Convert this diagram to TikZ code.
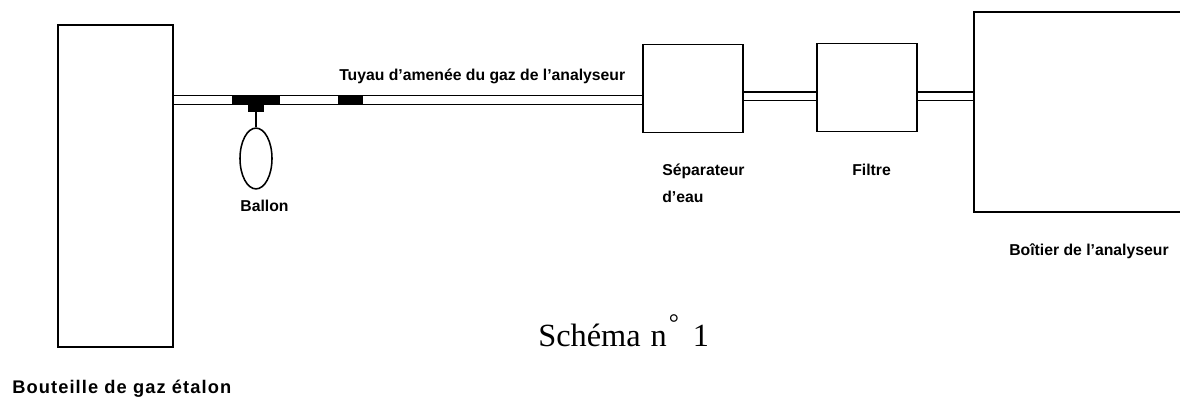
\documentclass[tikz,border=0pt]{standalone}
\usepackage{fontspec}
\setmainfont{Liberation Sans}
\newfontfamily\titlefont{Liberation Serif}
\usepackage{tikz}
\usetikzlibrary{positioning,shapes.geometric}

\begin{document}
\begin{tikzpicture}[x=0.025cm, y=-0.025cm,
  box/.style={draw, line width=1.1pt, inner sep=0pt},
  lbl/.style={font=\fontsize{11.2}{19.2}\selectfont\bfseries, inner sep=0pt, align=left},
  pipe/.style={line width=1.1pt},
  joint/.style={fill=black, inner sep=0pt}]
  \useasboundingbox (0,0) rectangle (1180,402);
  \node[box, minimum width=2.87cm, minimum height=8.05cm] (bottle) at (115.5,186) {};
  \node[box, minimum width=2.5cm, minimum height=2.2cm] (sep) at (693,88.3) {};
  \node[box, minimum width=2.5cm, minimum height=2.2cm] (filter) at (867,87.3) {};
  \node[box, minimum width=5.4cm, minimum height=5cm] (box) at (1082,112) {};
  \coordinate (pipeA) at (0,95.5);
  \coordinate (pipeB) at (0,104.5);
  \coordinate (pipeC) at (0,92);
  \coordinate (pipeD) at (0,100.5);
  % tuyau
  \draw[pipe] (bottle.east |- pipeA) -- (sep.west |- pipeA);
  \draw[pipe] (bottle.east |- pipeB) -- (sep.west |- pipeB);
  \draw[pipe] (sep.east |- pipeC) -- (filter.west |- pipeC);
  \draw[pipe] (sep.east |- pipeD) -- (filter.west |- pipeD);
  \draw[pipe] (filter.east |- pipeC) -- (box.west |- pipeC);
  \draw[pipe] (filter.east |- pipeD) -- (box.west |- pipeD);
  % raccords
  \node[joint, minimum width=1.2cm, minimum height=0.24cm] (tee) at (256,100) {};
  \node[joint, minimum width=0.42cm, minimum height=0.17cm, below=0pt of tee] (stem) {};
  \node[joint, minimum width=0.62cm, minimum height=0.24cm] (clamp) at (350.5,100) {};
  \node[draw, line width=1.1pt, ellipse, minimum width=0.8cm, minimum height=1.52cm, inner sep=0pt] (balloon) at (256,158.5) {};
  \draw[line width=0.8pt] (stem) -- (balloon);
  % textes
  \node[lbl, anchor=base] (ballonlbl) at (264.5,211) {Ballon};
  \node[lbl, anchor=base west] (pipelbl) at (339,80) {Tuyau d'amenée du gaz de l'analyseur};
  \node[lbl, anchor=north west] (seplbl) at (662,164) {Séparateur\\d'eau};
  \node[lbl, anchor=base] (filterlbl) at (871.5,175) {Filtre};
  \node[lbl, anchor=base] (boxlbl) at (1089,255) {Boîtier de l'analyseur};
  \node[lbl, anchor=base west, font=\fontsize{13}{15}\selectfont\bfseries\addfontfeature{LetterSpace=6}] (bottlelbl) at (12,393) {Bouteille de gaz étalon};
  \node[inner sep=0pt, anchor=base west, font=\titlefont\fontsize{23}{26}\selectfont] (title) at (538,346) {Schéma\hspace{7pt}n\hspace{1.5pt}\raisebox{10pt}{\fontsize{18}{20}\selectfont °}\hspace{10pt}1};
\end{tikzpicture}
\end{document}
